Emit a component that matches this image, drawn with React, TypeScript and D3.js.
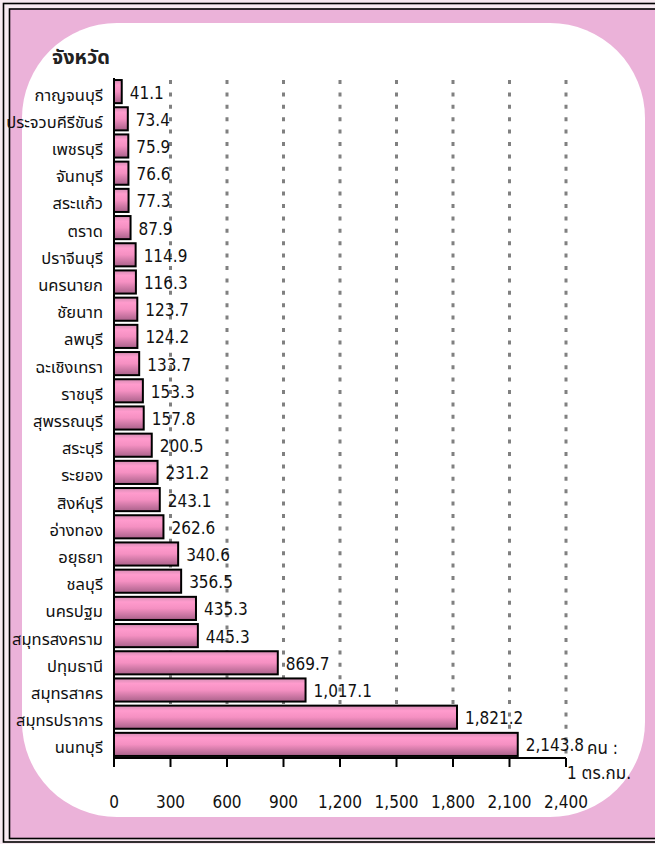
import React from "react";
import * as d3 from "d3";

const provinces = [
  "กาญจนบุรี", "ประจวบคีรีขันธ์", "เพชรบุรี", "จันทบุรี", "สระแก้ว", "ตราด",
  "ปราจีนบุรี", "นครนายก", "ชัยนาท", "ลพบุรี", "ฉะเชิงเทรา", "ราชบุรี",
  "สุพรรณบุรี", "สระบุรี", "ระยอง", "สิงห์บุรี", "อ่างทอง", "อยุธยา",
  "ชลบุรี", "นครปฐม", "สมุทรสงคราม", "ปทุมธานี", "สมุทรสาคร", "สมุทรปราการ", "นนทบุรี",
];
const density = [
  41.1, 73.4, 75.9, 76.6, 77.3, 87.9, 114.9, 116.3, 123.7, 124.2, 133.7, 153.3,
  157.8, 200.5, 231.2, 243.1, 262.6, 340.6, 356.5, 435.3, 445.3, 869.7, 1017.1, 1821.2, 2143.8,
];
const xTicks = [0, 300, 600, 900, 1200, 1500, 1800, 2100, 2400];
const titleText = "จังหวัด";
const unitLine1 = "คน :";
const unitLine2 = "1 ตร.กม.";

const W = 655;
const H = 844;
const FONT = "Tahoma, 'DejaVu Sans Condensed', 'DejaVu Sans', 'Noto Sans Thai', sans-serif";

export default function App() {
  const x = d3.scaleLinear().domain([0, 2400]).range([114, 566]);
  const y = d3.scaleBand<string>().domain(provinces).range([78, 758]).paddingInner(0.15).paddingOuter(0.075);
  const fmt = d3.format(",.1f");
  const x0 = x(0);
  const axisY = 758;

  return (
    <svg width={W} height={H} style={{ position: "absolute", left: 0, top: 0 }} fontFamily={FONT}>
      <defs>
        <linearGradient id="barGrad" x1="0" y1="0" x2="0" y2="1">
          <stop offset="0" stopColor="#d58db4" />
          <stop offset="0.22" stopColor="#ff9bcd" />
          <stop offset="0.5" stopColor="#f590c2" />
          <stop offset="1" stopColor="#a9618a" />
        </linearGradient>
      </defs>
      <rect x={0} y={0} width={W} height={H} fill="#f7e9f1" />
      <rect x={3.5} y={3.5} width={W + 10} height={838.5} fill="none" stroke="#000" strokeWidth={1.6} />
      <rect x={9.5} y={9} width={W} height={829.5} fill="#ebb2d9" stroke="#000" strokeWidth={1.6} />
      <rect x={22} y={23} width={623} height={794} rx={95} ry={95} fill="#ffffff" />

      <text x={52} y={64} fontSize={20} fontWeight="bold" fill="#222">{titleText}</text>

      {xTicks.filter((t) => t > 0).map((t) => (
        <line key={"g" + t} x1={x(t)} x2={x(t)} y1={80} y2={axisY} stroke="#808080" strokeWidth={3} strokeDasharray="4 8.4" />
      ))}

      {provinces.map((p, i) => {
        const yy = y(p)!;
        const bw = y.bandwidth();
        const xe = x(density[i]);
        return (
          <g key={p}>
            <rect x={x0} y={yy} width={xe - x0} height={bw} fill="url(#barGrad)" stroke="#000" strokeWidth={2} />
            <text x={xe + 8} y={yy + bw / 2 + 1} dominantBaseline="central" fontSize={17} fill="#111">{fmt(density[i])}</text>
            <text x={103} y={yy + bw / 2 + 9} textAnchor="end" fontSize={16.5} fill="#111">{p}</text>
          </g>
        );
      })}

      <line x1={x0} x2={x0} y1={78} y2={axisY} stroke="#000" strokeWidth={2} />
      <line x1={x0} x2={x(2400)} y1={axisY} y2={axisY} stroke="#000" strokeWidth={2} />
      {xTicks.map((t) => (
        <g key={"t" + t}>
          <line x1={x(t)} x2={x(t)} y1={axisY} y2={axisY + 9} stroke="#000" strokeWidth={2} />
          <text x={x(t)} y={802} textAnchor="middle" dominantBaseline="central" fontSize={17} fill="#111">{d3.format(",")(t)}</text>
        </g>
      ))}

      <text x={587} y={748} dominantBaseline="central" fontSize={17} fill="#111">{unitLine1}</text>
      <text x={567} y={773} dominantBaseline="central" fontSize={17} fill="#111">{unitLine2}</text>
    </svg>
  );
}
